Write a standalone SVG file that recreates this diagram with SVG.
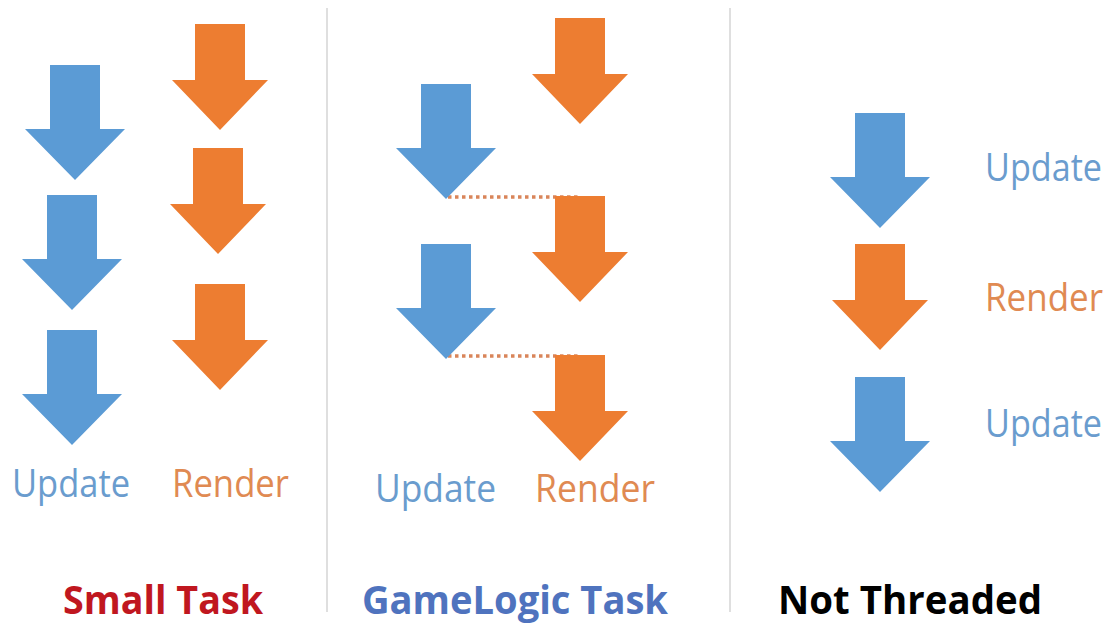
<svg xmlns="http://www.w3.org/2000/svg" width="1112" height="623" viewBox="0 0 1112 623">
<style>
.blue{fill:#5b9bd5}
.orange{fill:#ed7d31}
.lbl{font-family:"Open Sans","Liberation Sans",sans-serif;font-size:38px}
.upd{fill:#6a9cce}
.ren{fill:#e08a52}
.title{font-family:"Open Sans","Liberation Sans",sans-serif;font-size:39px;font-weight:bold}
.div{stroke:#d4d4d4;stroke-width:1.5;fill:none}
.dot{stroke:#d9855a;stroke-width:3.5;stroke-dasharray:3.5 3.5;fill:none}
</style>
<defs>
<path id="ab" d="M-25,0 H25 V64 H50 L0,115 L-50,64 H-25 Z"/>
<path id="ao" d="M-25,0 H25 V56 H48 L0,106 L-48,56 H-25 Z"/>
</defs>
<rect width="1112" height="623" fill="#ffffff"/>
<g id="dividers">
<line class="div" x1="327" y1="8" x2="327" y2="612"/>
<line class="div" x1="730" y1="8" x2="730" y2="612"/>
</g>
<g id="connectors">
<line class="dot" x1="448" y1="197" x2="578" y2="197"/>
<line class="dot" x1="448" y1="356" x2="578" y2="356"/>
</g>
<g id="small-task">
<use href="#ab" class="blue" x="75" y="65"/>
<use href="#ab" class="blue" x="72" y="195"/>
<use href="#ab" class="blue" x="72" y="330"/>
<use href="#ao" class="orange" x="220" y="24"/>
<use href="#ao" class="orange" x="218" y="148"/>
<use href="#ao" class="orange" x="220" y="284"/>
<text class="lbl upd" x="12" y="497" textLength="118" lengthAdjust="spacingAndGlyphs">Update</text>
<text class="lbl ren" x="172" y="497" textLength="117" lengthAdjust="spacingAndGlyphs">Render</text>
<text class="title" x="63" y="614" fill="#c0171f" textLength="200" lengthAdjust="spacingAndGlyphs">Small Task</text>
</g>
<g id="gamelogic-task">
<use href="#ab" class="blue" x="446" y="84"/>
<use href="#ab" class="blue" x="446" y="244"/>
<use href="#ao" class="orange" x="580" y="18"/>
<use href="#ao" class="orange" x="580" y="196"/>
<use href="#ao" class="orange" x="580" y="355"/>
<text class="lbl upd" x="375" y="502" textLength="121" lengthAdjust="spacingAndGlyphs">Update</text>
<text class="lbl ren" x="535" y="502" textLength="120" lengthAdjust="spacingAndGlyphs">Render</text>
<text class="title" x="362" y="614" fill="#4f73be" textLength="306" lengthAdjust="spacingAndGlyphs">GameLogic Task</text>
</g>
<g id="not-threaded">
<use href="#ab" class="blue" x="880" y="113"/>
<use href="#ao" class="orange" x="880" y="244"/>
<use href="#ab" class="blue" x="880" y="377"/>
<text class="lbl upd" x="985" y="181" textLength="117" lengthAdjust="spacingAndGlyphs">Update</text>
<text class="lbl ren" x="985" y="311" textLength="118" lengthAdjust="spacingAndGlyphs">Render</text>
<text class="lbl upd" x="985" y="437" textLength="117" lengthAdjust="spacingAndGlyphs">Update</text>
<text class="title" x="778" y="614" fill="#000000" textLength="264" lengthAdjust="spacingAndGlyphs">Not Threaded</text>
</g>
</svg>
